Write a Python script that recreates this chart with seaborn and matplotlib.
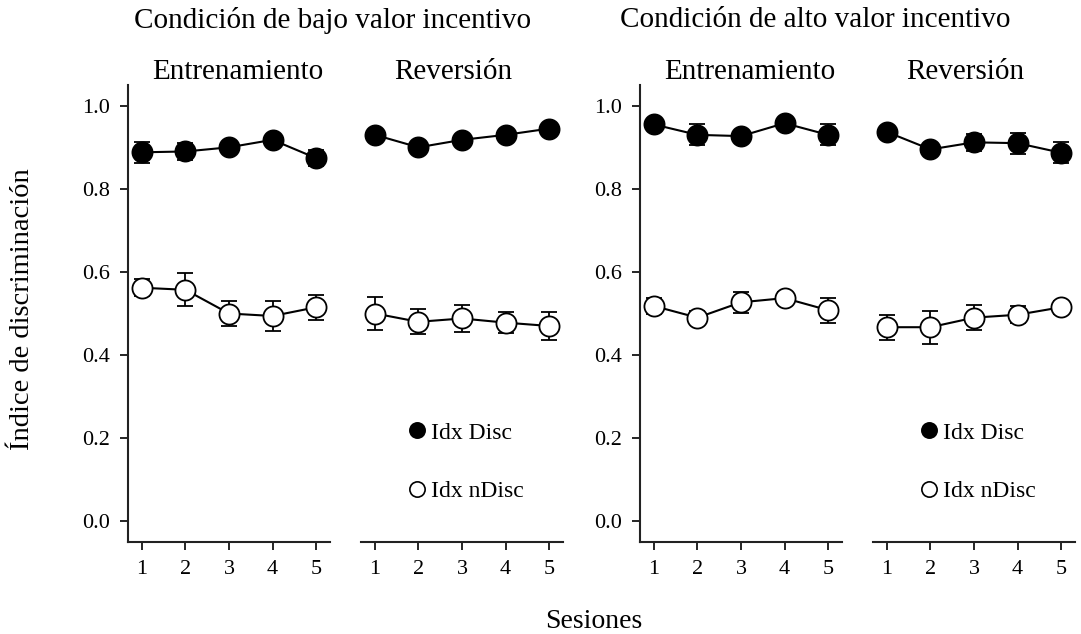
import numpy as np
import pandas as pd
import matplotlib
matplotlib.use('Agg')
import matplotlib.pyplot as plt
import seaborn as sns
from matplotlib.lines import Line2D

# Data
sessions = [1, 2, 3, 4, 5]
panels = ['bajo_ent', 'bajo_rev', 'alto_ent', 'alto_rev']

disc_mean = {
    'bajo_ent': [0.888, 0.890, 0.900, 0.918, 0.874],
    'bajo_rev': [0.930, 0.900, 0.918, 0.930, 0.945],
    'alto_ent': [0.955, 0.930, 0.927, 0.958, 0.930],
    'alto_rev': [0.937, 0.895, 0.912, 0.910, 0.887],
}
disc_sem = {
    'bajo_ent': [0.025, 0.020, 0.012, 0.012, 0.020],
    'bajo_rev': [0.010, 0.010, 0.010, 0.010, 0.010],
    'alto_ent': [0.010, 0.025, 0.010, 0.010, 0.025],
    'alto_rev': [0.010, 0.010, 0.020, 0.025, 0.025],
}
ndisc_mean = {
    'bajo_ent': [0.562, 0.557, 0.500, 0.494, 0.515],
    'bajo_rev': [0.500, 0.480, 0.488, 0.478, 0.470],
    'alto_ent': [0.518, 0.490, 0.527, 0.537, 0.508],
    'alto_rev': [0.467, 0.467, 0.490, 0.497, 0.515],
}
ndisc_sem = {
    'bajo_ent': [0.020, 0.040, 0.030, 0.035, 0.030],
    'bajo_rev': [0.040, 0.030, 0.033, 0.025, 0.033],
    'alto_ent': [0.020, 0.015, 0.025, 0.015, 0.030],
    'alto_rev': [0.030, 0.040, 0.030, 0.020, 0.015],
}
subtitles = ['Entrenamiento', 'Reversión', 'Entrenamiento', 'Reversión']
titles = ['Condición de bajo valor incentivo', 'Condición de alto valor incentivo']

sns.set_style('ticks')
plt.rcParams['font.family'] = ['Liberation Serif', 'DejaVu Serif']
plt.rcParams['text.color'] = 'black'
plt.rcParams['xtick.color'] = 'black'
plt.rcParams['ytick.color'] = 'black'
plt.rcParams['axes.edgecolor'] = '#222222'

fig = plt.figure(figsize=(10.81, 6.34), dpi=100)
W, H = 1081, 634
lefts = [128, 361, 640, 873]
ax_w, bottom, top = 202, 542, 85

for i, (p, left) in enumerate(zip(panels, lefts)):
    ax = fig.add_axes([left / W, 1 - bottom / H, ax_w / W, (bottom - top) / H])
    df = pd.DataFrame({
        'Sesion': sessions * 2,
        'Idx': disc_mean[p] + ndisc_mean[p],
        'sem': disc_sem[p] + ndisc_sem[p],
        'Serie': ['Idx Disc'] * 5 + ['Idx nDisc'] * 5,
    })
    for serie, face in [('Idx Disc', 'black'), ('Idx nDisc', 'white')]:
        d = df[df['Serie'] == serie]
        ax.errorbar(d['Sesion'], d['Idx'], yerr=d['sem'], fmt='none',
                    ecolor='black', elinewidth=1.3, capsize=6, capthick=1.3, zorder=2)
        sns.lineplot(data=d, x='Sesion', y='Idx', ax=ax, color='black', lw=1.5,
                     marker='o', markersize=14.5, markerfacecolor=face,
                     markeredgecolor='black', markeredgewidth=1.3, zorder=3)
    ax.set_xlim(0.68, 5.32)
    ax.set_ylim(-0.05, 1.05)
    ax.set_xticks(sessions)
    ax.set_xlabel('')
    ax.set_ylabel('')
    ax.tick_params(axis='both', labelsize=16, length=6, width=1.2, pad=7)
    for s in ['top', 'right']:
        ax.spines[s].set_visible(False)
    ax.spines['bottom'].set_linewidth(1.5)
    ax.spines['left'].set_linewidth(1.5)
    if i % 2 == 0:
        ax.set_yticks([0.0, 0.2, 0.4, 0.6, 0.8, 1.0])
        ax.set_yticklabels([f'{v:.1f}' for v in [0.0, 0.2, 0.4, 0.6, 0.8, 1.0]])
        ax.set_title(subtitles[i], fontsize=21, pad=2, x=0.545)
    else:
        ax.spines['left'].set_visible(False)
        ax.set_yticks([])
        handles = [
            Line2D([], [], ls='none', marker='o', markersize=11, color='black',
                   markerfacecolor='black', markeredgewidth=1.2),
            Line2D([], [], ls='none', marker='o', markersize=11, color='black',
                   markerfacecolor='white', markeredgewidth=1.2),
        ]
        ax.legend(handles, ['Idx Disc', 'Idx nDisc'], frameon=False, fontsize=17,
                  loc='center left', bbox_to_anchor=(0.1, 0.175),
                  handletextpad=0.0, labelspacing=1.55, handlelength=1.2)
        ax.set_title(subtitles[i], fontsize=21, pad=2, x=0.455)

fig.text(333 / W, 1 - 20 / H, titles[0], ha='center', va='center', fontsize=21)
fig.text(815 / W, 1 - 20 / H, titles[1], ha='center', va='center', fontsize=21)
fig.text(594 / W, 1 - 621 / H, 'Sesiones', ha='center', va='center', fontsize=20)
fig.text(23 / W, 1 - 309 / H, 'Índice de discriminación', ha='center', va='center',
         rotation=90, fontsize=20.5)

fig.savefig('out.png', dpi=100)
